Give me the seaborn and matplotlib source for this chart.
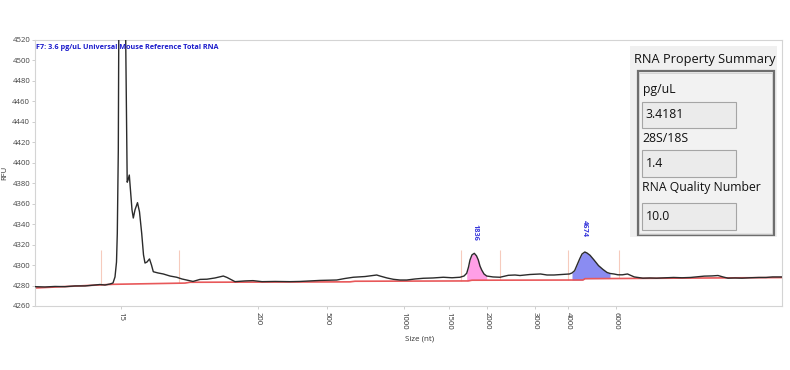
import numpy as np
import pandas as pd
import matplotlib
matplotlib.use("Agg")
import matplotlib.pyplot as plt
from matplotlib.patches import Rectangle
import seaborn as sns

# ---------------- data ----------------
# migration position (arbitrary time units) and fluorescence (RFU)
trace_time = [35, 45, 55, 65, 75, 85, 95, 100, 105, 110, 113, 115, 116.5, 117.3, 118.3,
              119.5, 121.5, 123.5, 125.7, 126.5, 127.2, 128, 129.3, 130.5, 132, 133.3, 135,
              137.5, 139.5, 141.7, 143.5, 145, 147, 149.5, 151.5, 153.3, 158, 163.3, 170,
              176.7, 182, 186.7, 193, 200, 207, 215, 223.3, 227, 235, 245, 253, 262, 275,
              290, 300, 310, 320, 336.7, 345, 353.3, 365, 376.7, 380, 387, 393.3, 400,
              406.7, 415, 423.3, 433, 443.3, 452, 460, 464, 466.7, 468.5, 470, 472, 474.3,
              476.5, 478.3, 480, 481.7, 484, 486.7, 493, 500, 508.3, 515, 520, 530, 540.5,
              547, 554, 562, 569.5, 572, 574.6, 577, 579.7, 582, 584.8, 587, 590, 594,
              598.5, 603, 607, 610, 613.9, 618, 622.4, 627.5, 631, 634.3, 642.9, 650,
              656.5, 665, 673.6, 682, 690.6, 698, 704.3, 712, 718, 723, 728, 735, 742,
              750, 759, 766, 772.6, 782]
trace_rfu = [4278.9, 4278.6, 4279.1, 4278.9, 4279.6, 4279.6, 4280.5, 4281.0, 4280.5, 4281.5,
             4282.5, 4288.4, 4303, 4331, 4412, 4700, 5100, 4800, 4520, 4442, 4381, 4383,
             4388, 4373, 4354, 4346, 4354, 4361, 4352, 4331, 4310, 4302, 4303, 4306, 4300,
             4293.5, 4292.3, 4291.3, 4289.3, 4288.1, 4286.4, 4285.4, 4284, 4286, 4286.2,
             4287.4, 4289.3, 4287.9, 4283.8, 4284.5, 4284.8, 4283.8, 4284, 4283.8, 4284,
             4284.5, 4285, 4285.4, 4286.9, 4288.1, 4288.8, 4290.3, 4289.3, 4287.4, 4286.1,
             4285.4, 4285.4, 4286.4, 4287.1, 4287.4, 4288.1, 4287.6, 4288.1, 4289.3, 4292,
             4298, 4305, 4310, 4311.5, 4309, 4305, 4299, 4295.2, 4291.3, 4289.3, 4288.4,
             4288.1, 4290, 4290.3, 4289.8, 4290.8, 4291.3, 4290.3, 4290.3, 4290.8, 4291.3,
             4292.3, 4294.5, 4300, 4306.1, 4310.8, 4312.8, 4311.8, 4309.6, 4305, 4299.5,
             4295.7, 4292.8, 4291.8, 4291.3, 4290.5, 4290.5, 4291.3, 4289.8, 4288.4, 4287.2,
             4287.4, 4287.2, 4287.6, 4287.9, 4287.6, 4287.9, 4288.6, 4289.2, 4289.4, 4289.8,
             4288.4, 4287.2, 4287.4, 4287.2, 4287.6, 4287.9, 4287.9, 4288.4, 4288.4]

baseline_time = [35, 113, 185, 190, 350, 355, 468, 472, 583, 585, 640, 782]
baseline_rfu = [4277.6, 4281.2, 4282.4, 4283.2, 4283.6, 4284.2, 4284.5, 4285.2, 4285.4,
                4286.7, 4287.0, 4287.8]

# size ladder: tick positions (time units) and sizes (nt)
ladder_time = [121, 258, 327, 404, 449, 487, 535, 568, 616]
ladder_size = ["15", "200", "500", "1000", "1500", "2000", "3000", "4000", "6000"]

# integration window markers
window_time = [101, 179, 461, 500, 568, 619]
window_top = 4315

# called peaks
peak_names = ["1836", "4674"]
peak_start = [466.7, 571]
peak_end = [487, 612]
peak_label_time = [475, 584]
peak_label_rfu = [4332, 4336]
peak_colors = ["#ff9fe6", "#8a8cf2"]

summary_labels = ["pg/uL", "28S/18S", "RNA Quality Number"]
summary_values = ["3.4181", "1.4", "10.0"]

title = "F7: 3.6 pg/uL Universal Mouse Reference Total RNA"

# ---------------- plot ----------------
sns.set_theme(style="white")
plt.rcParams["font.family"] = ["Open Sans", "DejaVu Sans"]

W, H = 790, 370
fig = plt.figure(figsize=(W / 100, H / 100), dpi=100)
ax = fig.add_axes([35 / W, 1 - 306 / H, 747 / W, 266 / H])

df = pd.DataFrame({"time": trace_time, "rfu": trace_rfu})
bdf = pd.DataFrame({"time": baseline_time, "rfu": baseline_rfu})

# peak fills
for s, e, c in zip(peak_start, peak_end, peak_colors):
    sub = df[(df["time"] >= s) & (df["time"] <= e)]
    base = np.interp(sub["time"], baseline_time, baseline_rfu)
    ax.fill_between(sub["time"], base, sub["rfu"], color=c, lw=0, zorder=1)

# window markers
for t in window_time:
    b = np.interp(t, baseline_time, baseline_rfu)
    ax.vlines(t, b, window_top, color="#f6cbbd", lw=0.8, zorder=0.5)

sns.lineplot(data=bdf, x="time", y="rfu", ax=ax, color="#e8585a", lw=1.2,
             estimator=None, sort=False, zorder=2)
sns.lineplot(data=df, x="time", y="rfu", ax=ax, color="#2b2b2b", lw=1.0,
             estimator=None, sort=False, zorder=3)

for n, t, r in zip(peak_names, peak_label_time, peak_label_rfu):
    ax.text(t, r, n, rotation=270, ha="center", va="center", fontsize=5.3,
            fontweight="bold", color="#3a3adc")

ax.set_xlim(35, 782)
ax.set_ylim(4260, 4520)
ax.set_yticks(np.arange(4260, 4521, 20))
ax.tick_params(axis="y", labelsize=5.6, labelcolor="#444444", length=2, width=0.5,
               color="#bbbbbb", pad=1.5, left=True)
ax.set_xticks(ladder_time)
ax.set_xticklabels(ladder_size, rotation=270)
ax.tick_params(axis="x", labelsize=5.6, labelcolor="#333333", length=2, width=0.5,
               color="#bbbbbb", pad=2, bottom=True)
ax.set_xlabel("Size (nt)", fontsize=5.8, color="#333333", labelpad=4)
ax.set_ylabel("RFU", fontsize=5.5, color="#333333", labelpad=3)
ax.xaxis.set_label_coords((420 - 35) / 747, -29 / 266)
for sp in ax.spines.values():
    sp.set_color("#d4d4d4")
    sp.set_linewidth(0.8)

ax.text(0.002, 0.985, title, transform=ax.transAxes, ha="left", va="top",
        fontsize=5.2, fontweight="bold", color="#1c1ccc")

# summary panel (pixel units)
pan = fig.add_axes([630 / W, 1 - 237 / H, 147 / W, 191 / H])
pan.set_xlim(630, 777)
pan.set_ylim(237, 46)
pan.axis("off")
pan.add_patch(Rectangle((630, 46), 147, 191, fc="#f0f0f0", ec="none"))
pan.add_patch(Rectangle((637.5, 71), 136, 164, fc="#f2f2f2", ec="#6e6e6e", lw=1.6))
pan.add_patch(Rectangle((639, 72.5), 133, 161, fc="none", ec="#cfcfcf", lw=0.6))
pan.text(633.5, 59.5, "RNA Property Summary", ha="left", va="center",
         fontsize=9.2, color="#111111")
label_y = [90, 139, 188]
box_y = [101.7, 150, 203]
for lab, val, ly, by in zip(summary_labels, summary_values, label_y, box_y):
    pan.text(642.5, ly, lab, ha="left", va="center", fontsize=8.8, color="#111111")
    pan.add_patch(Rectangle((642, by), 94, 26.5, fc="#ebebeb", ec="#a5a5a5", lw=0.8))
    pan.text(645.5, by + 13.3, val, ha="left", va="center", fontsize=8.8, color="#111111")

fig.savefig("out.png", dpi=100, facecolor="white")
